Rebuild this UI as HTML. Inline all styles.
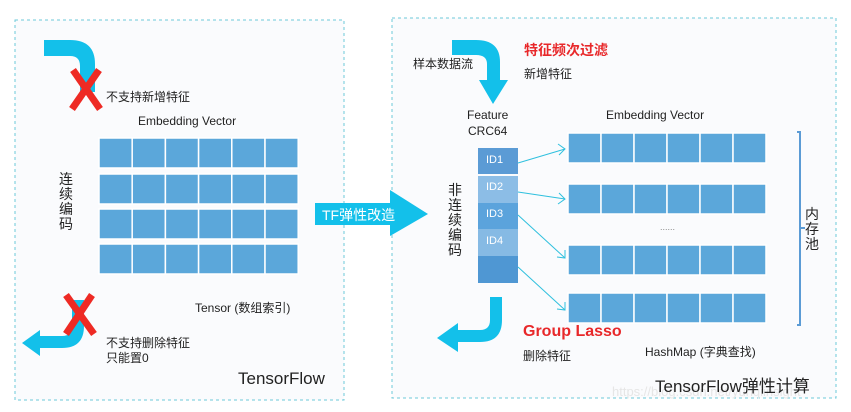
<!DOCTYPE html>
<html><head><meta charset="utf-8"><style>
body{margin:0;width:851px;height:412px;background:#fff;overflow:hidden;position:relative;font-family:"Liberation Sans","Noto Sans CJK SC",sans-serif;}
.t{position:absolute;white-space:nowrap;color:#222;}
.v{position:absolute;width:16px;font-size:14px;line-height:15px;color:#222;}
</style></head><body>
<svg width="851" height="412" style="position:absolute;left:0;top:0">
<rect x="15" y="20" width="329" height="380" fill="#fafbfd" stroke="#6cc9d9" stroke-width="1" stroke-dasharray="3,3"/>
<rect x="392" y="18" width="444" height="380" fill="#fafbfd" stroke="#6cc9d9" stroke-width="1" stroke-dasharray="3,3"/>
<g fill="#5ba7da" stroke="#fff" stroke-width="1.5">
<g id="r1"><rect x="99" y="138" width="33.2" height="30"/><rect x="132.2" y="138" width="33.2" height="30"/><rect x="165.4" y="138" width="33.2" height="30"/><rect x="198.6" y="138" width="33.2" height="30"/><rect x="231.8" y="138" width="33.2" height="30"/><rect x="265" y="138" width="33.2" height="30"/></g>
<use href="#r1" y="36"/><use href="#r1" y="71"/><use href="#r1" y="106"/>
<g id="r2"><rect x="568" y="133" width="33" height="30"/><rect x="601" y="133" width="33" height="30"/><rect x="634" y="133" width="33" height="30"/><rect x="667" y="133" width="33" height="30"/><rect x="700" y="133" width="33" height="30"/><rect x="733" y="133" width="33" height="30"/></g>
<use href="#r2" y="51"/><use href="#r2" y="112"/><use href="#r2" y="160"/>
</g>
<rect x="478" y="148" width="40" height="26" fill="#5b9bd5"/>
<rect x="478" y="176" width="40" height="27" fill="#8cbde6"/>
<rect x="478" y="203" width="40" height="26" fill="#5ba3dc"/>
<rect x="478" y="229" width="40" height="27" fill="#86bae4"/>
<rect x="478" y="256" width="40" height="27" fill="#4f97d3"/>
<g stroke="#2fc0de" stroke-width="1" fill="none">
<line x1="518" y1="163" x2="565" y2="149"/><polyline points="558,144 565,149 559,155"/>
<line x1="518" y1="192" x2="565" y2="199"/><polyline points="559,193 565,199 558,204"/>
<line x1="518" y1="215" x2="565" y2="258"/><polyline points="565,250 565,258 557,257"/>
<line x1="518" y1="267" x2="565" y2="310"/><polyline points="565,302 565,310 557,309"/>
</g>
<path d="M797,132 H800 V325 H797 M800,228 H805" stroke="#5b9bd5" stroke-width="2" fill="none"/>
<text x="660" y="230" font-size="9" fill="#888">......</text>
<g fill="#13c0ea">
<rect x="315" y="203" width="76" height="22"/>
<polygon points="390,190 428,214 390,236"/>
<path d="M44,40 H70 Q95,40 95,64 V92 H80 V66 Q80,56 70,56 H44 Z"/>
<path d="M84,300 V326 Q84,348 62,348 H40 V356 L22,343 L40,330 V336 H62 Q72,336 72,326 V300 Z"/>
<path d="M452,40 H476 Q500,40 500,62 V80 H508 L493,104 L479,80 H487 V64 Q487,55 476,55 H452 Z"/>
<path d="M502,297 V320 Q502,342 480,342 H458 V352 L437,338 L458,323 V330 H480 Q490,330 490,320 V297 Z"/>
</g>
<g stroke="#ee2a24" stroke-width="7" stroke-linecap="butt">
<line x1="73" y1="70" x2="100" y2="109"/><line x1="99" y1="70" x2="72" y2="109"/>
<line x1="66" y1="295" x2="94" y2="334"/><line x1="92" y1="295" x2="66" y2="334"/>
</g>
</svg>
<div class="t" style="left:322px;top:205px;font-size:14px;color:#fff">TF弹性改造</div>
<div class="t" style="left:106px;top:88px;font-size:12px">不支持新增特征</div>
<div class="t" style="left:138px;top:114px;font-size:12px">Embedding Vector</div>
<div class="v" style="left:59px;top:172px">连续编码</div>
<div class="t" style="left:195px;top:299px;font-size:12px">Tensor (数组索引)</div>
<div class="t" style="left:106px;top:336px;font-size:12px;line-height:15px">不支持删除特征<br>只能置0</div>
<div class="t" style="left:238px;top:369px;font-size:17px">TensorFlow</div>
<div class="t" style="left:413px;top:55px;font-size:12px">样本数据流</div>
<div class="t" style="left:524px;top:40px;font-size:14px;color:#e8282a;font-weight:bold">特征频次过滤</div>
<div class="t" style="left:524px;top:65px;font-size:12px">新增特征</div>
<div class="t" style="left:467px;top:107px;font-size:12px;line-height:16px;text-align:center">Feature<br>CRC64</div>
<div class="t" style="left:606px;top:108px;font-size:12px">Embedding Vector</div>
<div class="t" style="left:486px;top:154px;font-size:11px;color:#fff">ID1</div>
<div class="t" style="left:486px;top:181px;font-size:11px;color:#fff">ID2</div>
<div class="t" style="left:486px;top:208px;font-size:11px;color:#fff">ID3</div>
<div class="t" style="left:486px;top:235px;font-size:11px;color:#fff">ID4</div>
<div class="v" style="left:448px;top:183px">非连续编码</div>
<div class="v" style="left:805px;top:207px">内存池</div>
<div class="t" style="left:523px;top:323px;font-size:16px;color:#e8282a;font-weight:bold">Group Lasso</div>
<div class="t" style="left:523px;top:347px;font-size:12px">删除特征</div>
<div class="t" style="left:645px;top:343px;font-size:12px">HashMap (字典查找)</div>
<div class="t" style="left:612px;top:384px;font-size:13px;color:#e6e6e6">https://blog.csdn.net/yunqiinsight</div>
<div class="t" style="left:655px;top:372px;font-size:17px">TensorFlow弹性计算</div>
</body></html>
